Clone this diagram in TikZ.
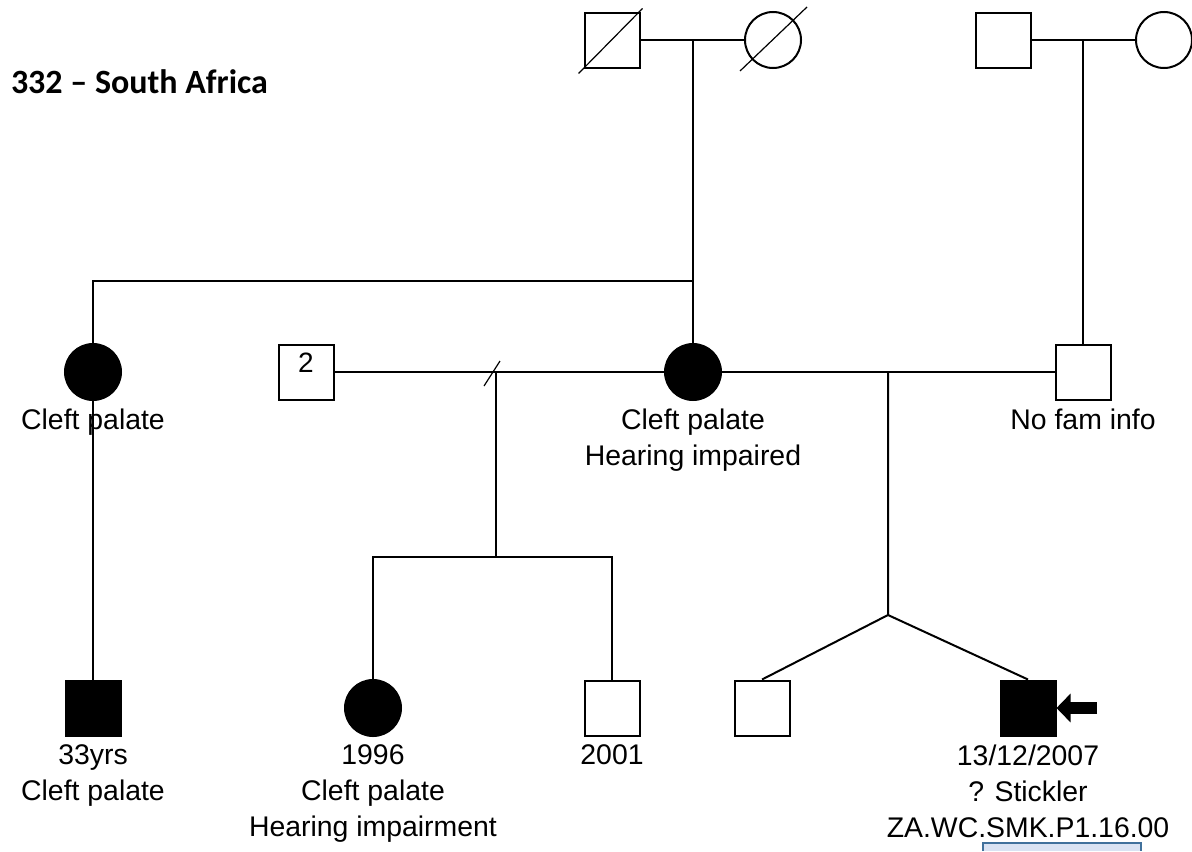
\documentclass[tikz,border=0pt]{standalone}
\usepackage{fontspec}
\setmainfont{Liberation Sans}
\newfontfamily\titlefont{Carlito}
\usetikzlibrary{arrows.meta,positioning}
\definecolor{tagfill}{HTML}{DAE3F3}
\definecolor{tagline}{HTML}{41719C}

\begin{document}
\begin{tikzpicture}[x=0.5pt, y=-0.5pt, line width=1pt,
    male/.style={draw, rectangle, minimum size=27.5pt, inner sep=0pt},
    female/.style={draw, circle, minimum size=28pt, inner sep=0pt},
    aff/.style={fill=black},
    info/.style={font=\fontsize{14.2}{18}\selectfont, align=center, inner sep=0pt},
    dead/.style={line width=0.6pt}]
  \useasboundingbox (0,0) rectangle (1192,851);

  % Titel
  \node[font=\titlefont\bfseries\fontsize{17}{20}\selectfont, anchor=base west, inner sep=0pt] (title) at (10,93) {332 – South Africa};

  % Generation I
  \node[male] (pgf) at (612,40) {};
  \node[female] (pgm) at (773,40) {};
  \node[male] (mgf) at (1003,40) {};
  \node[female] (mgm) at (1164,40) {};
  \draw[dead] ([shift={(-5,5)}]pgf.south west) -- ([shift={(2,-3)}]pgf.north east);
  \draw[dead] (740,71) -- (807,7);
  \draw (pgf) -- (pgm);
  \draw (mgf) -- (mgm);

  % Generation II
  \node[female, aff] (aunt) at (93,372) {};
  \node[male] (ptwo) at (306,372) {};
  \node[font=\fontsize{14}{14}\selectfont, inner sep=0pt] (ptwon) at (306,363) {2};
  \node[female, aff] (mum) at (693,372) {};
  \node[male] (dad) at (1083,372) {};
  \coordinate (j1) at (693,40);
  \coordinate (j2) at (1083,40);
  \coordinate (sib1) at (693,281);
  \draw (j1) -- (mum);
  \draw (sib1) -| (aunt);
  \draw (j2) -- (dad);
  \draw (ptwo) -- (mum);
  \draw (mum) -- (dad);
  \draw[dead] (484,386) -- (500,361);

  % Generation III
  \node[male, aff] (cous) at (93,708) {};
  \node[female, aff] (sis) at (373,708) {};
  \node[male] (bro) at (612,708) {};
  \node[male] (twin) at (762,708) {};
  \node[male, aff] (prob) at (1028,708) {};
  \coordinate (m1) at (496,372);
  \coordinate (s1) at (496,557);
  \coordinate (m2) at (888,372);
  \coordinate (tw) at (888,615);
  \coordinate (arr) at (1097,708);
  \draw (aunt) -- (cous);
  \draw (m1) -- (s1);
  \draw (sis) |- (s1) -| (bro);
  \draw (m2) -- (tw) -- (twin.north);
  \draw (tw) -- (prob.north);
  \draw[-{Triangle[length=7pt,width=14pt]}, line width=6pt] (arr) -- (prob.east);

  % Labels
  \node[info, below=3.5pt of aunt] (auntl) {Cleft palate};
  \node[info, below=3.5pt of mum] (muml) {Cleft palate\\Hearing impaired};
  \node[info, below=3.5pt of dad] (dadl) {No fam info};
  \node[info, below=3.5pt of cous] (cousl) {33yrs\\Cleft palate};
  \node[info, below=3.5pt of sis] (sisl) {1996\\Cleft palate\\Hearing impairment};
  \node[info, below=3.5pt of bro] (brol) {2001};
  \node[info, below=3.5pt of prob] (probl) {13/12/2007\\? Stickler\\ZA.WC.SMK.P1.16.00};

  \fill[tagfill] (983,843) rectangle (1141,851);
  \draw[tagline, line width=0.8pt] (983,851) |- (1141,843) -- (1141,851);
\end{tikzpicture}
\end{document}
